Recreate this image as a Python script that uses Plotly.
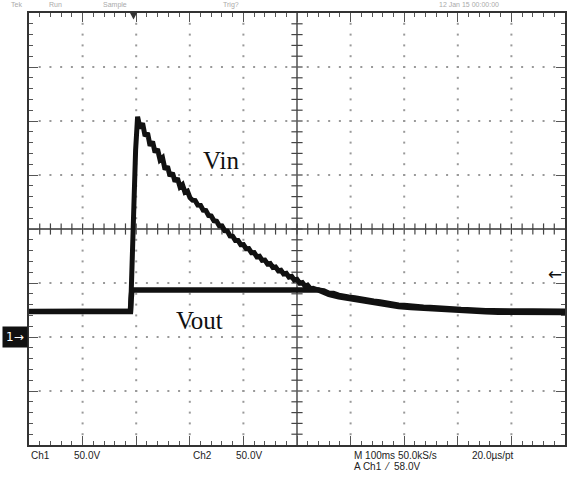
import numpy as np
import plotly.graph_objects as go

# Time axis in ms (M 100ms/div), Ch1 voltage in V (50.0V/div)
vin_t = [0, 189.6, 191.4, 193.3, 196.1, 198.9, 202.6, 207.3, 211.9, 216.6, 221.2,
         225.9, 230.5, 235.2, 239.8, 244.5, 249.1, 253.8, 258.4, 263.1, 267.7,
         272.4, 277.0, 281.7, 286.3, 291.0, 295.6, 300.3,
         305, 310, 315, 320, 325, 330, 335, 340, 345, 350, 355, 360, 365, 370,
         375, 380, 385, 390, 395, 400, 405, 410, 415, 420, 425, 430, 435, 440,
         445, 450, 455, 460, 465, 470, 475, 480, 485, 490, 495, 500, 505, 510,
         515, 520, 525, 530, 540, 550, 559.5, 568, 578, 587, 596.6, 608, 620,
         632, 643.1, 655, 666, 678, 689.6, 700, 712, 724, 736, 748, 760, 771,
         782.5, 794, 806, 818, 829, 841, 852, 864, 875.5, 900, 940, 970, 1000]
vin_v = [23.5, 24, 52.8, 89.8, 136, 173, 204, 193, 198, 186, 189,
         177, 181, 171, 174, 164, 166, 155, 158, 149, 152,
         144, 147, 139, 141, 134, 135, 129,
         126.7, 126.4, 122.1, 121.9, 117.4, 117.0, 112.5, 112.1, 107.7, 107.2,
         103.0, 102.8, 98.5, 98.1, 93.6, 93.3, 89.4, 89.4, 85.5, 85.6, 81.8,
         81.9, 78.1, 78.2, 74.4, 74.8, 71.0, 71.2, 67.6, 68.0, 64.4, 64.9,
         61.4, 61.8, 58.4, 58.9, 55.5, 56.1, 52.7, 53.3, 49.9, 50.5, 47.2,
         47.9, 44.8, 45.0, 43.5, 42.8, 40.7, 40.5, 38.7, 38.4, 37, 36.4, 35,
         34.5, 33.3, 32.6, 31.4, 30.8, 29.6, 29.4, 28.6, 28.4, 27.8, 27.6, 27,
         26.9, 26.3, 26.1, 25.6, 25.5, 25, 25.0, 24.6, 24.6, 24.3, 24.3, 24.2,
         24.1, 24]

vout_t = [0, 189.2, 190.5, 192, 540, 559.5, 578, 596.6, 620, 643.1, 666, 689.6,
          712, 736, 760, 782.5, 806, 829, 852, 875.5, 940, 1000]
vout_v = [23.5, 23.5, 35, 43.5, 43.5, 39.5, 37.3, 35.6, 33.6, 31.9, 30.0, 28.3,
          27.3, 26.4, 25.6, 24.9, 24.2, 23.6, 23.3, 23.0, 22.8, 22.8]

trigger_t = 195.0      # trigger position (ms)
trigger_level = 58.0   # A Ch1 / 58.0V
ch1_ground = 0.0

X_RANGE = [0, 1000]
Y_RANGE = [-100, 300]
X_DIV, Y_DIV = 100, 50
X_MIN, Y_MIN = 20, 10
X_C, Y_C = 500, 100

fig = go.Figure()

# graticule dots
vx = [x for x in np.arange(X_RANGE[0] + X_DIV, X_RANGE[1], X_DIV) if x != X_C]
hy = [y for y in np.arange(Y_RANGE[0] + Y_DIV, Y_RANGE[1], Y_DIV) if y != Y_C]
my = np.arange(Y_RANGE[0] + Y_MIN, Y_RANGE[1], Y_MIN)
mx = np.arange(X_RANGE[0] + X_MIN, X_RANGE[1], X_MIN)
dx, dy = [], []
for x in vx:
    dx += [x] * len(my); dy += list(my)
for y in hy:
    dx += list(mx); dy += [y] * len(mx)
fig.add_trace(go.Scatter(x=dx, y=dy, mode="markers", hoverinfo="skip",
                         marker=dict(symbol="square", size=2, color="#999"),
                         showlegend=False))
# center crosshair ticks
fig.add_trace(go.Scatter(x=[X_C] * len(my), y=my, mode="markers", hoverinfo="skip",
                         marker=dict(symbol="line-ew", size=8,
                                     line=dict(width=1.2, color="#444")),
                         showlegend=False))
fig.add_trace(go.Scatter(x=mx, y=[Y_C] * len(mx), mode="markers", hoverinfo="skip",
                         marker=dict(symbol="line-ns", size=8,
                                     line=dict(width=1.2, color="#444")),
                         showlegend=False))

# waveforms
fig.add_trace(go.Scatter(x=vout_t, y=vout_v, mode="lines", name="Vout",
                         line=dict(color="#111", width=5.5), showlegend=False))
fig.add_trace(go.Scatter(x=vin_t, y=vin_v, mode="lines", name="Vin",
                         line=dict(color="#111", width=5), showlegend=False))

fig.add_shape(type="line", x0=X_C, x1=X_C, y0=Y_RANGE[0], y1=Y_RANGE[1],
              line=dict(color="#333", width=1.3), layer="below")
fig.add_shape(type="line", x0=X_RANGE[0], x1=X_RANGE[1], y0=Y_C, y1=Y_C,
              line=dict(color="#333", width=1.3), layer="below")
fig.add_shape(type="path",
              path=f"M {trigger_t-6.5},{Y_RANGE[1]} L {trigger_t+6.5},{Y_RANGE[1]} L {trigger_t},{Y_RANGE[1]-6} Z",
              fillcolor="#333", line=dict(width=0))

axis_common = dict(showticklabels=False, showline=True, linecolor="#333", linewidth=1.5,
                   mirror="allticks", ticks="inside", ticklen=9, tickwidth=1.2,
                   tickcolor="#555", showgrid=False, zeroline=False)
fig.update_xaxes(range=X_RANGE, dtick=X_DIV, tick0=0,
                 minor=dict(dtick=X_MIN, ticks="inside", ticklen=4, tickwidth=1.2,
                            tickcolor="#555", showgrid=False), **axis_common)
fig.update_yaxes(range=Y_RANGE, dtick=Y_DIV, tick0=Y_RANGE[0],
                 minor=dict(dtick=Y_MIN, ticks="inside", ticklen=4, tickwidth=1.2,
                            tickcolor="#555", showgrid=False), **axis_common)

serif = dict(family="Liberation Serif, Times New Roman, serif", size=25, color="#111")
small = dict(family="Liberation Sans, Arial, sans-serif", size=10, color="#222")
ann = [
    dict(x=321.6, y=163, xref="x", yref="y", text="Vin", font=serif,
         xanchor="left", yanchor="middle", showarrow=False),
    dict(x=271.4, y=15.7, xref="x", yref="y", text="Vout", font=serif,
         xanchor="left", yanchor="middle", showarrow=False),
    dict(x=0, y=ch1_ground, xref="paper", yref="y", text="1→", xanchor="right",
         yanchor="middle", xshift=-1, showarrow=False, bgcolor="#111", borderpad=3,
         font=dict(family="DejaVu Sans, sans-serif", size=12, color="white")),
    dict(x=1, y=trigger_level, xref="paper", yref="y", text="←", xanchor="right",
         yanchor="middle", xshift=-1, showarrow=False,
         font=dict(family="DejaVu Sans", size=17, color="#111")),
]
bottom = [(29, 455, "Ch1"), (72, 455, "50.0V"), (192, 455, "Ch2"), (235, 455, "50.0V"),
          (353, 455, "M 100ms 50.0kS/s"), (472, 455, "20.0µs/pt"),
          (353, 467, "A Ch1  ⁄  58.0V")]
for px, py, t in bottom:
    ann.append(dict(x=px / 567, y=1 - py / 484, xref="paper", yref="paper",
                    xanchor="left", yanchor="middle", text=t, showarrow=False,
                    font=small))
top = [(9, "Tek"), (47, "Run"), (101, "Sample"), (222, "Trig?"), (439, "12 Jan 15 00:00:00")]
for px, t in top:
    ann.append(dict(x=px / 567, y=1 - 5 / 484, xref="paper", yref="paper",
                    xanchor="left", yanchor="middle", text=t, showarrow=False,
                    font=dict(family="Liberation Sans, Arial, sans-serif", size=7,
                              color="#aaa")))
# convert bottom/top annotations from page fraction to paper fraction
L, R, T, B = 29, 0, 13, 39
W, H = 567, 484
for a in ann:
    if a.get("xref") == "paper" and a.get("yref") == "paper":
        pxx = a["x"] * W
        pyy = (1 - a["y"]) * H
        a["x"] = (pxx - L) / (W - L - R)
        a["y"] = 1 - (pyy - T) / (H - T - B)

fig.update_layout(width=W, height=H, margin=dict(l=L, r=R, t=T, b=B),
                  paper_bgcolor="white", plot_bgcolor="white", annotations=ann,
                  showlegend=False)
fig.write_html("out.html")
